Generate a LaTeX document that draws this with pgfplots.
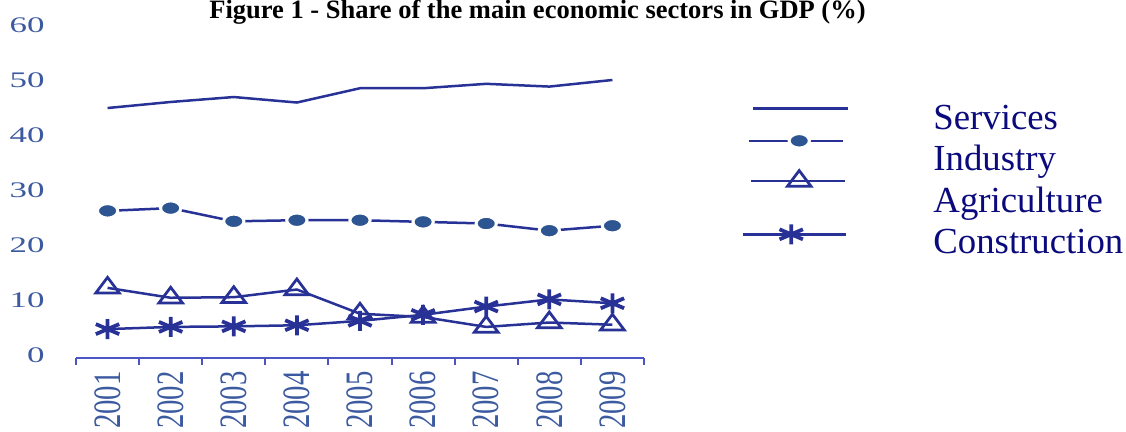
\documentclass[border=0pt]{standalone}
\usepackage{fontspec}
\setmainfont{Liberation Serif}
\usepackage{graphicx}
\usepackage{pgfplots}
\pgfplotsset{compat=1.18}

\definecolor{linecol}{RGB}{40,50,150}
\definecolor{markcol}{RGB}{45,85,145}
\definecolor{axiscol}{RGB}{75,85,195}
\definecolor{tickcol}{RGB}{60,90,160}
\definecolor{legcol}{RGB}{10,10,125}

% stretched tick labels, as in the scanned figure
\newcommand\ys[1]{\scalebox{1.57}[1]{#1}}
\newcommand\xs[1]{\scalebox{1}[1.35]{#1}}

\begin{document}
\begin{tikzpicture}
\path[use as bounding box] (0,0) rectangle (450.4pt,172.8pt);
\clip (0,0) rectangle (450.4pt,172.8pt);

\node[anchor=base, font=\bfseries\fontsize{10.6}{12}\selectfont] at (215pt,165.4pt)
  {Figure 1 - Share of the main economic sectors in GDP (\%)};

\begin{axis}[
  at={(30.4pt,29.6pt)}, anchor=south west,
  scale only axis, width=227.2pt, height=133.2pt,
  xmin=2000.5, xmax=2009.5, ymin=-0.55, ymax=60,
  axis x line*=bottom, axis y line*=left,
  y axis line style={draw=none},
  x axis line style={color=axiscol, line width=0.8pt},
  xtick={2001,...,2009},
  xticklabels={\xs{2001},\xs{2002},\xs{2003},\xs{2004},\xs{2005},\xs{2006},\xs{2007},\xs{2008},\xs{2009}},
  minor xtick={2000.5,2001.5,...,2009.5},
  major tick length=0pt, minor tick length=2.8pt, tick align=outside,
  xtick style={color=axiscol, line width=0.8pt},
  ytick={0,10,...,60},
  yticklabels={\ys{0},\ys{10},\ys{20},\ys{30},\ys{40},\ys{50},\ys{60}},
  ytick style={draw=none},
  yticklabel style={anchor=east, inner sep=0pt, xshift=-12.4pt, color=tickcol,
    font=\fontsize{8.9}{10}\selectfont},
  xticklabel style={rotate=90, anchor=east, inner sep=0pt, color=tickcol,
    font=\fontsize{11.5}{12}\selectfont},
  xticklabel shift=5.2pt,
  clip=false,
  legend style={at={(axis description cs:1.1725,0.767)}, anchor=north west,
    draw=none, fill=none, inner sep=0pt, outer sep=0pt,
    row sep=2.3pt, column sep=0pt,
    nodes={inner sep=0pt, text height=10.8pt, text depth=3.4pt, text=legcol},
    cells={anchor=base west},
    font=\fontsize{14.7}{17}\selectfont},
]
\addplot[linecol, line width=1pt,
  legend image code/.code={\draw[overlay] (4pt,8.4pt) -- (42pt,8.4pt); \path (0pt,0pt) (75.6pt,0pt);}]
coordinates {(2001,44.9)(2002,46.0)(2003,46.9)(2004,45.9)(2005,48.5)(2006,48.5)(2007,49.3)(2008,48.8)(2009,50.0)};

\addplot[linecol, line width=1pt, mark=*, mark size=2.9pt,
  mark options={fill=markcol, draw=white, line width=1.2pt, xscale=1.4},
  legend image code/.code={\draw[overlay, mark repeat=2, mark phase=2] plot coordinates {(2.4pt,12pt) (22.4pt,12pt) (40pt,12pt)}; \path (0pt,0pt) (75.6pt,0pt);}]
coordinates {(2001,26.2)(2002,26.7)(2003,24.3)(2004,24.5)(2005,24.5)(2006,24.2)(2007,23.9)(2008,22.6)(2009,23.5)};

\addplot[linecol, line width=1pt, mark=triangle, mark size=4.2pt,
  mark options={fill=white, draw=linecol, line width=1.1pt, xscale=1.3},
  legend image code/.code={\draw[overlay, mark repeat=2, mark phase=2] plot coordinates {(3.2pt,12.4pt) (22.4pt,12.4pt) (40.8pt,12.4pt)}; \path (0pt,0pt) (75.6pt,0pt);}]
coordinates {(2001,12.2)(2002,10.4)(2003,10.5)(2004,11.9)(2005,7.5)(2006,6.9)(2007,5.1)(2008,5.9)(2009,5.5)};

\addplot[linecol, line width=1pt, mark=asterisk, mark size=4pt,
  mark options={draw=linecol, line width=1.5pt, xscale=1.35},
  legend image code/.code={\draw[overlay, mark repeat=2, mark phase=2] plot coordinates {(0pt,7.6pt) (19.2pt,7.6pt) (41.2pt,7.6pt)}; \path (0pt,0pt) (75.6pt,0pt);}]
coordinates {(2001,4.7)(2002,5.1)(2003,5.2)(2004,5.4)(2005,6.2)(2006,7.3)(2007,8.8)(2008,10.1)(2009,9.4)};

\legend{Services,Industry,Agriculture,Construction}
\end{axis}
\end{tikzpicture}
\end{document}
